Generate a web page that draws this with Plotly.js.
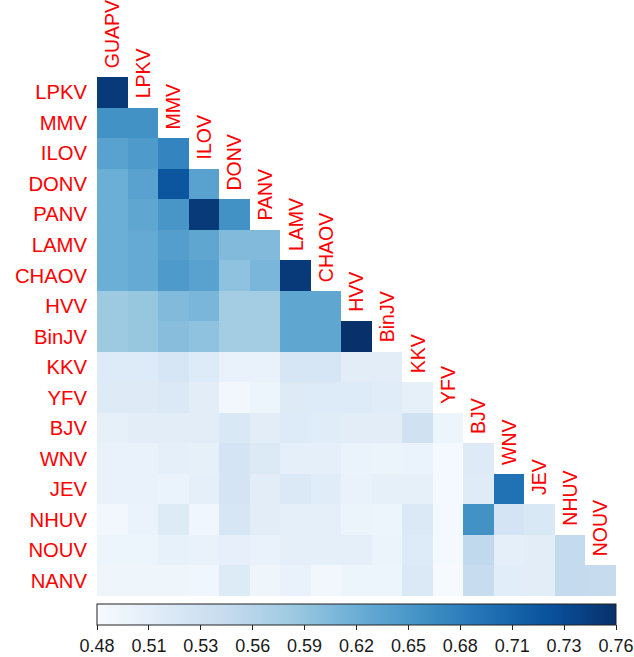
<!DOCTYPE html>
<html>
<head>
<meta charset="utf-8">
<script src="https://cdn.plot.ly/plotly-3.0.1.min.js"></script>
<style>html,body{margin:0;padding:0;background:#fff;}#chart{width:634px;height:657px;}</style>
</head>
<body>
<div id="chart"></div>
<script>
// Column (x) labels and row (y) labels
const colLabels = ["GUAPV","LPKV","MMV","ILOV","DONV","PANV","LAMV","CHAOV","HVV","BinJV","KKV","YFV","BJV","WNV","JEV","NHUV","NOUV"];
const rowLabels = ["LPKV","MMV","ILOV","DONV","PANV","LAMV","CHAOV","HVV","BinJV","KKV","YFV","BJV","WNV","JEV","NHUV","NOUV","NANV"];

// Lower-triangle values, one array per row
const rLPKV  = [0.75];
const rMMV   = [0.655, 0.655];
const rILOV  = [0.635, 0.645, 0.67];
const rDONV  = [0.62, 0.635, 0.72, 0.635];
const rPANV  = [0.62, 0.63, 0.65, 0.75, 0.655];
const rLAMV  = [0.62, 0.625, 0.64, 0.63, 0.605, 0.605];
const rCHAOV = [0.62, 0.625, 0.645, 0.635, 0.595, 0.61, 0.75];
const rHVV   = [0.585, 0.59, 0.605, 0.61, 0.58, 0.58, 0.63, 0.63];
const rBinJV = [0.585, 0.59, 0.60, 0.595, 0.58, 0.58, 0.63, 0.63, 0.76];
const rKKV   = [0.517, 0.517, 0.525, 0.517, 0.50, 0.50, 0.525, 0.525, 0.51, 0.51];
const rYFV   = [0.515, 0.515, 0.52, 0.51, 0.488, 0.495, 0.515, 0.517, 0.517, 0.512, 0.505];
const rBJV   = [0.505, 0.51, 0.51, 0.51, 0.522, 0.51, 0.517, 0.512, 0.51, 0.51, 0.535, 0.495];
const rWNV   = [0.50, 0.50, 0.507, 0.505, 0.53, 0.518, 0.507, 0.507, 0.498, 0.497, 0.498, 0.485, 0.515];
const rJEV   = [0.50, 0.50, 0.498, 0.506, 0.53, 0.51, 0.52, 0.512, 0.499, 0.505, 0.505, 0.485, 0.513, 0.69];
const rNHUV  = [0.488, 0.498, 0.516, 0.49, 0.525, 0.51, 0.506, 0.506, 0.497, 0.494, 0.52, 0.485, 0.655, 0.53, 0.522];
const rNOUV  = [0.494, 0.494, 0.502, 0.50, 0.503, 0.499, 0.507, 0.507, 0.506, 0.497, 0.517, 0.485, 0.555, 0.506, 0.51, 0.552];
const rNANV  = [0.492, 0.492, 0.492, 0.49, 0.516, 0.492, 0.50, 0.489, 0.494, 0.494, 0.52, 0.482, 0.548, 0.511, 0.51, 0.552, 0.549];

// Colorbar ticks
const tickVals = [0.48, 0.508, 0.536, 0.564, 0.592, 0.62, 0.648, 0.676, 0.704, 0.732, 0.76];
const tickText = ["0.48","0.51","0.53","0.56","0.59","0.62","0.65","0.68","0.71","0.73","0.76"];
const zMin = 0.48, zMax = 0.76;

const lower = [rLPKV,rMMV,rILOV,rDONV,rPANV,rLAMV,rCHAOV,rHVV,rBinJV,rKKV,rYFV,rBJV,rWNV,rJEV,rNHUV,rNOUV,rNANV];
const z = lower.map(r => colLabels.map((c, j) => (j < r.length ? r[j] : null)));

const blues = [
  [0.0, "#f7fbff"], [0.125, "#deebf7"], [0.25, "#c6dbef"], [0.375, "#9ecae1"],
  [0.5, "#6baed6"], [0.625, "#4292c6"], [0.75, "#2171b5"], [0.875, "#08519c"], [1.0, "#08306b"]
];

const FONT = "Liberation Sans, Arial, Helvetica, sans-serif";

const trace = {
  type: "heatmap",
  x: colLabels,
  y: rowLabels,
  z: z,
  zmin: zMin,
  zmax: zMax,
  colorscale: blues,
  hoverinfo: "skip",
  xgap: 0, ygap: 0,
  colorbar: {
    orientation: "h",
    lenmode: "pixels", len: 519,
    thickness: 21,
    x: 0.5, xref: "paper", xanchor: "center",
    y: -8 / 519, yref: "paper", yanchor: "top",
    xpad: 0, ypad: 0,
    outlinewidth: 1, outlinecolor: "#222",
    tickmode: "array", tickvals: tickVals, ticktext: tickText,
    ticks: "outside", ticklen: 5, tickwidth: 1, tickcolor: "#222",
    ticklabeloverflow: "allow",
    tickfont: {family: FONT, size: 18, color: "#1a1a1a"}
  }
};

const annotations = colLabels.map((c, j) => ({
  x: j, y: j - 0.5, xref: "x", yref: "y",
  text: c, textangle: -90, showarrow: false,
  xanchor: "center", yanchor: "bottom", yshift: 7,
  font: {family: FONT, size: 19.5, color: "#ff0000"}
}));

const layout = {
  width: 634, height: 657,
  margin: {l: 97, r: 18, t: 77, b: 61, pad: 0, autoexpand: false},
  paper_bgcolor: "#ffffff", plot_bgcolor: "#ffffff",
  font: {family: FONT},
  xaxis: {showticklabels: false, showgrid: false, zeroline: false, ticks: "", showline: false,
          categoryorder: "array", categoryarray: colLabels,
          autorange: false, range: [-0.5, colLabels.length - 0.5]},
  yaxis: {showgrid: false, zeroline: false, ticks: "", showline: false,
          categoryorder: "array", categoryarray: rowLabels, ticklabelstandoff: 9,
          autorange: false, range: [rowLabels.length - 0.5, -0.5],
          tickfont: {family: FONT, size: 20.3, color: "#ff0000"}},
  annotations: annotations,
  showlegend: false
};

Plotly.newPlot("chart", [trace], layout, {displayModeBar: false, staticPlot: true});
</script>
</body>
</html>
